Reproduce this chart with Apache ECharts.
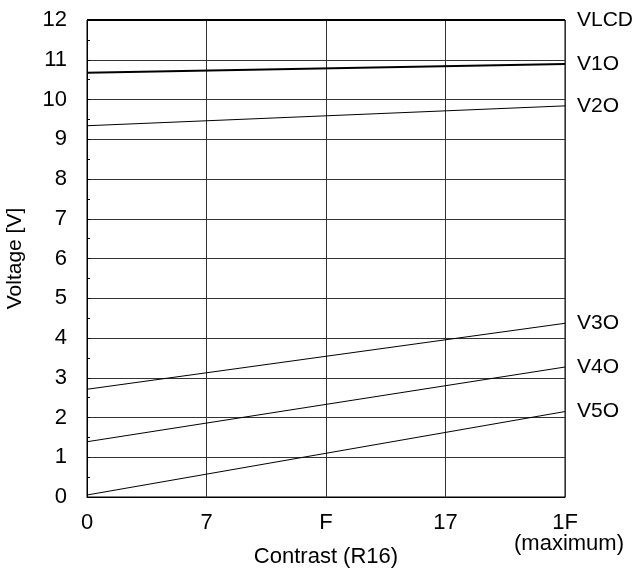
<!DOCTYPE html>
<html>
<head>
<meta charset="utf-8">
<script src="https://cdn.jsdelivr.net/npm/echarts@6/dist/echarts.min.js"></script>
<style>
  html, body { margin: 0; padding: 0; background: #fff; }
  #chart { width: 642px; height: 570px; }
</style>
</head>
<body>
<div id="chart"></div>
<script>
// contrast settings (hex), evenly spaced on the axis
const contrastLabels = ['0', '7', 'F', '17', '1F'];
const seriesNames = ['VLCD', 'V1O', 'V2O', 'V3O', 'V4O', 'V5O'];
// voltage at contrast 0 and at 1F (maximum)
const vlcd = [12, 12];
const v1o = [10.67, 10.89];
const v2o = [9.34, 9.84];
const v3o = [2.71, 4.37];
const v4o = [1.39, 3.27];
const v5o = [0.05, 2.15];
const seriesValues = [vlcd, v1o, v2o, v3o, v4o, v5o];
const lineWidths = [2, 2, 1, 1, 1, 1];

const font = 'Liberation Sans, Arial, sans-serif';
const chart = echarts.init(document.getElementById('chart'));

const series = seriesNames.map((name, i) => ({
  name: name,
  type: 'line',
  data: [[0, seriesValues[i][0]], [contrastLabels.length - 1, seriesValues[i][1]]],
  symbol: 'none',
  silent: true,
  lineStyle: { color: '#000', width: lineWidths[i] },
  endLabel: {
    show: true,
    formatter: '{a}',
    distance: 12,
    color: '#000',
    fontSize: 21,
    fontFamily: font
  },
  z: 5
}));

chart.setOption({
  animation: false,
  grid: {
    left: 87, right: 77, top: 20, bottom: 73,
    outerBoundsMode: 'none',
    containLabel: false,
    show: true, borderColor: '#000', borderWidth: 1
  },
  xAxis: {
    type: 'value',
    min: 0,
    max: contrastLabels.length - 1,
    interval: 1,
    name: 'Contrast (R16)',
    nameLocation: 'middle',
    nameGap: 49,
    nameMoveOverlap: false,
    nameTextStyle: { color: '#000', fontSize: 22, fontFamily: font },
    axisLine: { lineStyle: { color: '#000' } },
    axisTick: { show: false },
    splitLine: { show: true, lineStyle: { color: '#333', width: 1 } },
    axisLabel: {
      color: '#000',
      fontSize: 22,
      fontFamily: font,
      margin: 15,
      formatter: function (v) {
        const s = contrastLabels[v];
        if (v === contrastLabels.length - 1) return '{a|' + s + '}\n{b|(maximum)}';
        return s;
      },
      rich: {
        a: { fontSize: 22, fontFamily: font, color: '#000', lineHeight: 22 },
        b: { fontSize: 22, fontFamily: font, color: '#000', padding: [0, 0, 0, 8], lineHeight: 19 }
      }
    }
  },
  yAxis: {
    type: 'value',
    min: 0,
    max: 12,
    interval: 1,
    name: 'Voltage [V]',
    nameLocation: 'middle',
    nameGap: 61,
    nameMoveOverlap: false,
    nameTextStyle: { color: '#000', fontSize: 21, fontFamily: font },
    axisLine: { show: true, lineStyle: { color: '#000' } },
    axisTick: { show: true, inside: true, length: 3, lineStyle: { color: '#000' } },
    minorTick: { show: true, splitNumber: 2, length: 3, lineStyle: { color: '#000' } },
    splitLine: { show: true, lineStyle: { color: '#333', width: 1 } },
    axisLabel: { color: '#000', fontSize: 22, fontFamily: font, margin: 20 }
  },
  series: series
});
</script>
</body>
</html>
